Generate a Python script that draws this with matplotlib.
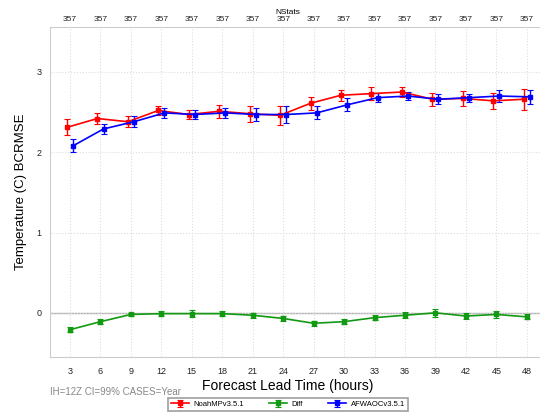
import matplotlib.pyplot as plt
import numpy as np

plt.rcParams['font.family'] = ['Liberation Sans', 'DejaVu Sans']

lead = [3, 6, 9, 12, 15, 18, 21, 24, 27, 30, 33, 36, 39, 42, 45, 48]
nstats = [357] * 16

noah = [2.31, 2.42, 2.38, 2.52, 2.47, 2.51, 2.48, 2.46,
        2.61, 2.71, 2.73, 2.75, 2.66, 2.67, 2.64, 2.66]
noah_err = [0.10, 0.07, 0.07, 0.05, 0.06, 0.08, 0.10, 0.12,
            0.08, 0.07, 0.08, 0.06, 0.08, 0.09, 0.10, 0.13]
afwa = [2.08, 2.29, 2.38, 2.49, 2.47, 2.49, 2.47, 2.47,
        2.49, 2.59, 2.68, 2.70, 2.66, 2.68, 2.70, 2.69]
afwa_err = [0.08, 0.06, 0.07, 0.06, 0.05, 0.06, 0.08, 0.10,
            0.08, 0.08, 0.06, 0.05, 0.06, 0.05, 0.07, 0.09]
diff = [-0.21, -0.11, -0.02, -0.01, -0.01, -0.01, -0.03, -0.07,
        -0.13, -0.11, -0.06, -0.03, 0.00, -0.04, -0.02, -0.05]
diff_err = [0.03, 0.03, 0.02, 0.03, 0.04, 0.03, 0.03, 0.03,
            0.03, 0.03, 0.03, 0.04, 0.05, 0.04, 0.04, 0.03]

x = np.array(lead, dtype=float)

fig = plt.figure(figsize=(5.4, 4.17), dpi=100)
ax = fig.add_axes([0.0926, 0.1439, 0.9074, 0.7914])

ax.axhline(0, color='#b0b0b0', linewidth=1, zorder=1)

kw = dict(linewidth=1.2, markersize=3, capsize=2, elinewidth=1, capthick=0.8, zorder=3)
ax.errorbar(x - 0.3, noah, yerr=noah_err, color='red', marker='s', label='NoahMPv3.5.1', **kw)
ax.errorbar(x, diff, yerr=diff_err, color='#119911', marker='s', label='Diff', **kw)
ax.errorbar(x + 0.3, afwa, yerr=afwa_err, color='blue', marker='s', label='AFWAOCv3.5.1', **kw)

ax.set_xlim(1.03, 49.3)
ax.set_ylim(-0.55, 3.56)
ax.set_xticks(lead)
ax.set_yticks([0, 1, 2, 3])
ax.tick_params(axis='x', labelsize=6.5, length=0, colors='#222222', pad=7.5)
ax.tick_params(axis='y', labelsize=6.5, length=0, colors='#222222', pad=6)
ax.grid(True, linestyle=':', color='#dddddd', linewidth=0.8)
for s in ['left', 'bottom', 'top']:
    ax.spines[s].set_color('#cccccc')
ax.spines['right'].set_visible(False)

ax.set_xlabel('Forecast Lead Time (hours)', fontsize=10, labelpad=2)
ax.xaxis.label.set_x(0.486)
ax.set_ylabel('Temperature (C) BCRMSE', fontsize=9.5, labelpad=7)

top = ax.secondary_xaxis('top')
top.set_xticks(lead)
top.set_xticklabels([str(n) for n in nstats])
top.tick_params(labelsize=6, length=0, colors='#222222', pad=3)
top.spines['top'].set_visible(False)
top.set_xlabel('NStats', fontsize=6, labelpad=1)
top.xaxis.label.set_x(0.486)

fig.text(0.093, 0.052, 'IH=12Z CI=99% CASES=Year', fontsize=7, color='#888888')

handles, labels = ax.get_legend_handles_labels()
leg = fig.legend(handles, labels, loc='lower center', bbox_to_anchor=(0.533, 0.005),
                 ncol=3, fontsize=5.5, frameon=True, fancybox=False,
                 handlelength=2.4, columnspacing=3.2, borderpad=0.4, handletextpad=0.6)
leg.get_frame().set_edgecolor('#888888')
leg.get_frame().set_linewidth(1.2)

fig.savefig('out.png', dpi=100)
